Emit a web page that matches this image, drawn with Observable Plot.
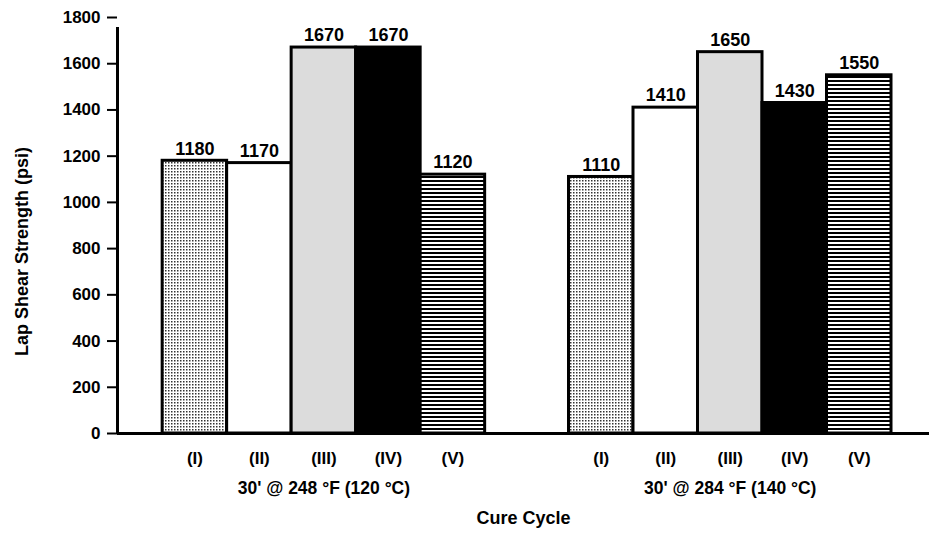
<!DOCTYPE html>
<html><head><meta charset="utf-8">
<script src="https://cdn.jsdelivr.net/npm/d3@7"></script>
<script src="https://cdn.jsdelivr.net/npm/@observablehq/plot@0.6"></script>
<style>
body{margin:0;background:#fff;}
#chart svg{font-family:"Liberation Sans",Arial,sans-serif;}
</style></head>
<body>
<svg width="0" height="0" style="position:absolute">
<defs>
<pattern id="dots" patternUnits="userSpaceOnUse" width="3" height="3">
<rect width="3" height="3" fill="#fff"/><rect width="1.5" height="1.5" fill="#333"/>
</pattern>
<pattern id="stripes" patternUnits="userSpaceOnUse" width="4" height="4">
<rect width="4" height="4" fill="#fff"/><rect width="4" height="2" fill="#000"/>
</pattern>
</defs></svg>
<div id="chart"></div>
<script>
const groups = ["30' @ 248 °F (120 °C)", "30' @ 284 °F (140 °C)"];
const cycles = ["(I)", "(II)", "(III)", "(IV)", "(V)"];
const strength248 = [1180, 1170, 1670, 1670, 1120];
const strength284 = [1110, 1410, 1650, 1430, 1550];
const yTicks = [0, 200, 400, 600, 800, 1000, 1200, 1400, 1600, 1800];

const fills = ["url(#dots)", "#ffffff", "#dcdcdc", "#000000", "url(#stripes)"];
const groupStart = [0.7, 7.0];

const rows = [];
[strength248, strength284].forEach((vals, g) => vals.forEach((v, i) => rows.push({
  group: groups[g], cycle: cycles[i], value: v,
  x1: groupStart[g] + i, x2: groupStart[g] + i + 1, fill: fills[i]
})));
const groupRows = groups.map((name, g) => ({name, x: groupStart[g] + cycles.length / 2}));
const mid = d => (d.x1 + d.x2) / 2;

const plot = Plot.plot({
  width: 929, height: 538,
  marginLeft: 117, marginRight: 0, marginTop: 17, marginBottom: 105,
  x: {domain: [0, 812 / 64.5], axis: null},
  y: {domain: [0, 1800], axis: null},
  color: {type: "identity"},
  marks: [
    Plot.rectY(rows, {x1: "x1", x2: "x2", y: "value", fill: "fill", stroke: "#000", strokeWidth: 3}),
    Plot.text(rows, {x: mid, y: "value", text: d => String(d.value), dy: -12, fontSize: 18, fontWeight: "bold"}),
    Plot.ruleY([0], {stroke: "#000", strokeWidth: 3}),
    Plot.ruleX([0], {y1: 0, y2: 1800, stroke: "#000", strokeWidth: 3, insetBottom: -10}),
    Plot.axisY({ticks: yTicks, tickSize: 10, tickPadding: 7, fontSize: 17, fontWeight: "bold", label: null, tickFormat: d => String(d), strokeWidth: 2}),
    Plot.text(rows, {x: mid, text: "cycle", frameAnchor: "bottom", dy: 30, fontSize: 17, fontWeight: "bold"}),
    Plot.text(groupRows, {x: "x", text: "name", frameAnchor: "bottom", dy: 60, fontSize: 17.5, fontWeight: "bold"}),
    Plot.text(["Cure Cycle"], {text: d => d, frameAnchor: "bottom", dy: 90, fontSize: 18, fontWeight: "bold"}),
    Plot.text(["Lap Shear Strength (psi)"], {text: d => d, frameAnchor: "left", textAnchor: "middle", rotate: -90, dx: -95, dy: 26, fontSize: 18, fontWeight: "bold"})
  ]
});
document.getElementById("chart").appendChild(plot);
</script>
</body></html>
